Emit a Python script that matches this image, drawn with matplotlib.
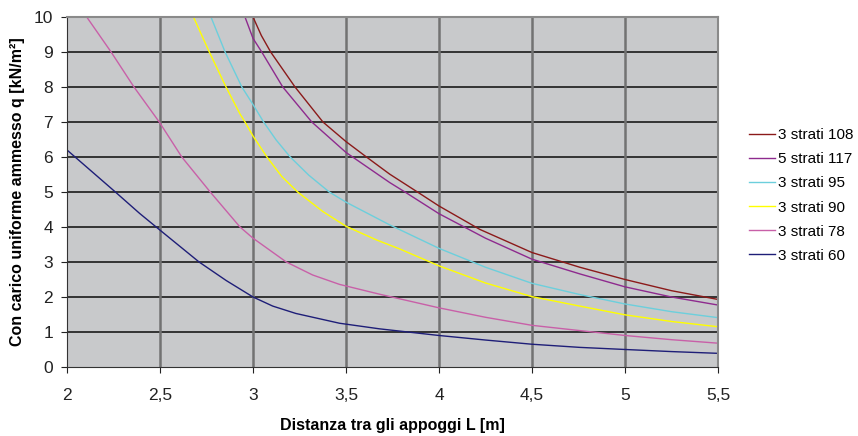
import matplotlib.pyplot as plt

plt.rcParams['font.family'] = ['Liberation Sans', 'DejaVu Sans']

# Dati: distanza L [m] e carico q [kN/m²] per ogni pannello
x_108 = [3.0, 3.045, 3.095, 3.226, 3.376, 3.5, 3.61, 3.735, 3.89, 4.0, 4.22, 4.5, 4.757, 5.0, 5.25, 5.5]
q_108 = [10, 9.47, 9, 8, 7, 6.44, 6.0, 5.51, 4.98, 4.6, 3.93, 3.27, 2.85, 2.5, 2.18, 1.93]

x_117 = [2.957, 3.0, 3.047, 3.16, 3.316, 3.5, 3.735, 3.817, 4.0, 4.25, 4.5, 4.757, 5.0, 5.25, 5.5]
q_117 = [10, 9.39, 9, 8, 7, 6.13, 5.27, 5.0, 4.38, 3.68, 3.08, 2.66, 2.29, 2.0, 1.77]

x_95 = [2.774, 2.85, 2.94, 3.0, 3.057, 3.124, 3.2, 3.3, 3.41, 3.5, 3.735, 4.0, 4.25, 4.5, 4.757, 5.0, 5.25, 5.5]
q_95 = [10, 9, 8, 7.5, 7.0, 6.49, 6.0, 5.48, 5.0, 4.71, 4.06, 3.39, 2.85, 2.39, 2.07, 1.8, 1.58, 1.41]

x_90 = [2.68, 2.765, 2.855, 2.93, 2.957, 3.0, 3.075, 3.155, 3.24, 3.376, 3.5, 3.664, 3.79, 4.0, 4.25, 4.5, 4.757, 5.0, 5.25, 5.5]
q_90 = [10, 9, 8, 7.23, 7.0, 6.6, 6.0, 5.44, 5.0, 4.44, 4.02, 3.63, 3.37, 2.89, 2.4, 2.01, 1.74, 1.49, 1.3, 1.15]

x_78 = [2.106, 2.237, 2.36, 2.496, 2.593, 2.617, 2.77, 2.93, 3.0, 3.179, 3.32, 3.465, 3.68, 4.0, 4.25, 4.5, 4.757, 5.0, 5.25, 5.5]
q_78 = [10, 9, 8, 7, 6.2, 6.0, 5.0, 4.0, 3.68, 3.0, 2.63, 2.36, 2.08, 1.69, 1.42, 1.19, 1.04, 0.9, 0.78, 0.68]

x_60 = [2.0, 2.26, 2.39, 2.5, 2.71, 2.856, 3.0, 3.106, 3.23, 3.465, 3.68, 4.0, 4.25, 4.5, 4.757, 5.0, 5.25, 5.5]
q_60 = [6.2, 5.0, 4.39, 3.91, 3.0, 2.47, 2.0, 1.74, 1.53, 1.25, 1.09, 0.9, 0.77, 0.65, 0.56, 0.5, 0.44, 0.39]

serie = [
    ("3 strati 108", x_108, q_108, "#8B1A1A"),
    ("5 strati 117", x_117, q_117, "#8E2A8E"),
    ("3 strati 95", x_95, q_95, "#6CCFDC"),
    ("3 strati 90", x_90, q_90, "#FFFF00"),
    ("3 strati 78", x_78, q_78, "#C860A8"),
    ("3 strati 60", x_60, q_60, "#1E1E78"),
]

x_ticks = [2, 2.5, 3, 3.5, 4, 4.5, 5, 5.5]
x_labels = ["2", "2,5", "3", "3,5", "4", "4,5", "5", "5,5"]
y_ticks = list(range(0, 11))

fig = plt.figure(figsize=(8.58, 4.36), dpi=100)
ax = fig.add_axes([0.0781, 0.1583, 0.7587, 0.8027])
ax.set_facecolor("#C8C9CB")

for nome, xs, qs, colore in serie:
    ax.plot(xs, qs, color=colore, linewidth=1.0, label=nome)

ax.set_xlim(2, 5.5)
ax.set_ylim(0, 10)
ax.set_xticks(x_ticks)
ax.set_xticklabels(x_labels)
ax.set_yticks(y_ticks)

# griglia: orizzontale nera, verticale grigia
for y in y_ticks[1:]:
    ax.axhline(y, color="#1a1a1a", linewidth=1.2, zorder=0.5)
for x in x_ticks[1:-1]:
    ax.axvline(x, color="#727272", linewidth=1.8, zorder=0.5)

for lato in ["top", "right"]:
    ax.spines[lato].set_color("#8a8a8a")
    ax.spines[lato].set_linewidth(1.5)
ax.spines["left"].set_color("#333333")
ax.spines["bottom"].set_color("#333333")

ax.tick_params(axis="both", labelsize=12.5, colors="#222222", length=4, width=0.8)
ax.tick_params(axis="x", pad=11)
ax.tick_params(axis="y", pad=6)

ax.set_xlabel("Distanza tra gli appoggi L [m]", fontsize=11.5, fontweight="bold", labelpad=11)
ax.set_ylabel("Con carico uniforme ammesso q [kN/m²]", fontsize=11.5, fontweight="bold", labelpad=6)

ax.legend(loc="center left", bbox_to_anchor=(1.032, 0.49), frameon=False,
          fontsize=11, handlelength=1.7, handletextpad=0.15, labelspacing=0.66,
          borderaxespad=0.3)

fig.savefig("out.png", dpi=100)
